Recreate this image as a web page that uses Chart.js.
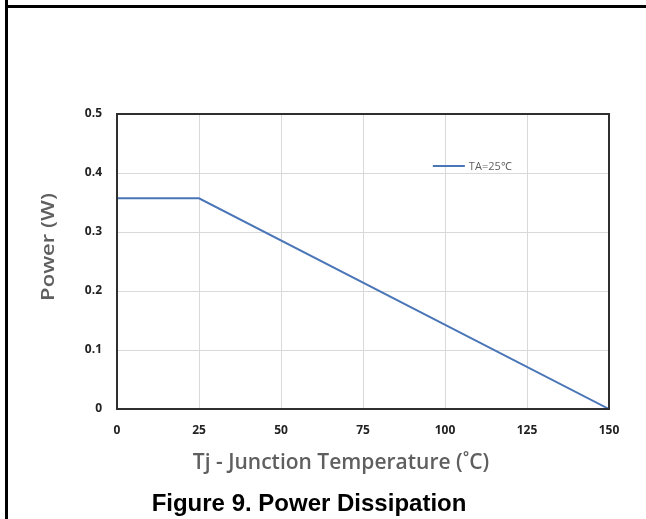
<!DOCTYPE html>
<html>
<head>
<meta charset="utf-8">
<script src="https://cdn.jsdelivr.net/npm/chart.js@4/dist/chart.umd.min.js"></script>
<style>
  html, body { margin: 0; padding: 0; background: #fff; }
  #wrap { position: relative; width: 646px; height: 519px; overflow: hidden; }
  #chart { position: absolute; left: 0; top: 0; }
  .frameLeft { position: absolute; left: 5px; top: 0; width: 3px; height: 519px; background: #000; }
  .frameTop { position: absolute; left: 5px; top: 5px; width: 641px; height: 3px; background: #000; }
</style>
</head>
<body>
<div id="wrap">
  <canvas id="chart" width="646" height="519"></canvas>
  <div class="frameLeft"></div>
  <div class="frameTop"></div>
</div>
<script>
// data
const tempPoints = [0, 25, 150];
const powerPoints = [0.357, 0.357, 0];
const xTicks = [0, 25, 50, 75, 100, 125, 150];
const yTicks = [0, 0.1, 0.2, 0.3, 0.4, 0.5];
const seriesName = "TA=25\u2103";

const xTitle = "Tj - Junction Temperature (\u02daC)";
const yTitle = "Power (W)";
const caption = "Figure 9. Power Dissipation";

const LINE_COLOR = "#4a76b8";
const GRID_COLOR = "#d9d9d9";
const AXIS_COLOR = "#2f2f2f";
const TITLE_COLOR = "#5f5f5f";

// frame around plot area, titles, legend and caption
const decorPlugin = {
    id: "decor",
    afterDraw(chart) {
        const ctx = chart.ctx;
        const a = chart.chartArea;
        ctx.save();
        ctx.strokeStyle = AXIS_COLOR;
        ctx.lineWidth = 2;
        ctx.strokeRect(a.left, a.top, a.right - a.left, a.bottom - a.top);

        // legend inside plot
        const lx = a.left + (a.right - a.left) * 0.642;
        const ly = chart.scales.y.getPixelForValue(0.412);
        ctx.strokeStyle = LINE_COLOR;
        ctx.lineWidth = 2;
        ctx.beginPath();
        ctx.moveTo(lx, ly);
        ctx.lineTo(lx + 32, ly);
        ctx.stroke();
        ctx.fillStyle = TITLE_COLOR;
        ctx.font = "11px 'Open Sans'";
        ctx.textBaseline = "middle";
        ctx.textAlign = "left";
        ctx.fillText(seriesName, lx + 36, ly + 1);

        // axis titles
        ctx.fillStyle = TITLE_COLOR;
        ctx.font = "600 21px 'Open Sans'";
        ctx.textAlign = "center";
        ctx.fillText(xTitle, 341, 463);
        ctx.save();
        ctx.translate(49, 247);
        ctx.rotate(-Math.PI / 2);
        ctx.scale(1.05, 0.88);
        ctx.fillText(yTitle, 0, 0);
        ctx.restore();

        // figure caption
        ctx.fillStyle = "#000";
        ctx.font = "bold 24px 'Liberation Sans', Arial, sans-serif";
        ctx.fillText(caption, 309, 504);
        ctx.restore();
    },
};

new Chart(document.getElementById("chart"), {
    type: "line",
    data: {
        datasets: [
            {
                label: seriesName,
                data: tempPoints.map((t, i) => ({ x: t, y: powerPoints[i] })),
                borderColor: LINE_COLOR,
                borderWidth: 2,
                pointRadius: 0,
                tension: 0,
                fill: false,
            },
        ],
    },
    options: {
        responsive: false,
        animation: false,
        layout: { padding: { left: 77, right: 37, top: 114, bottom: 70 } },
        plugins: {
            legend: { display: false },
            tooltip: { enabled: false },
        },
        scales: {
            x: {
                type: "linear",
                min: 0,
                max: 150,
                afterFit: (s) => { s.height = 40; },
                afterBuildTicks: (s) => { s.ticks = xTicks.map((v) => ({ value: v })); },
                grid: { color: GRID_COLOR, drawTicks: false },
                border: { display: false },
                ticks: {
                    padding: 14,
                    color: "#222",
                    font: { family: "'Open Sans'", size: 12, weight: "bold" },
                    maxRotation: 0,
                },
            },
            y: {
                type: "linear",
                min: 0,
                max: 0.5,
                afterFit: (s) => { s.width = 40; },
                afterBuildTicks: (s) => { s.ticks = yTicks.map((v) => ({ value: v })); },
                grid: { color: GRID_COLOR, drawTicks: false },
                border: { display: false },
                ticks: {
                    padding: 15,
                    color: "#222",
                    font: { family: "'Open Sans'", size: 12, weight: "bold" },
                    callback: (v) => (v === 0 ? "0" : v.toFixed(1)),
                },
            },
        },
    },
    plugins: [decorPlugin],
});
</script>
</body>
</html>
